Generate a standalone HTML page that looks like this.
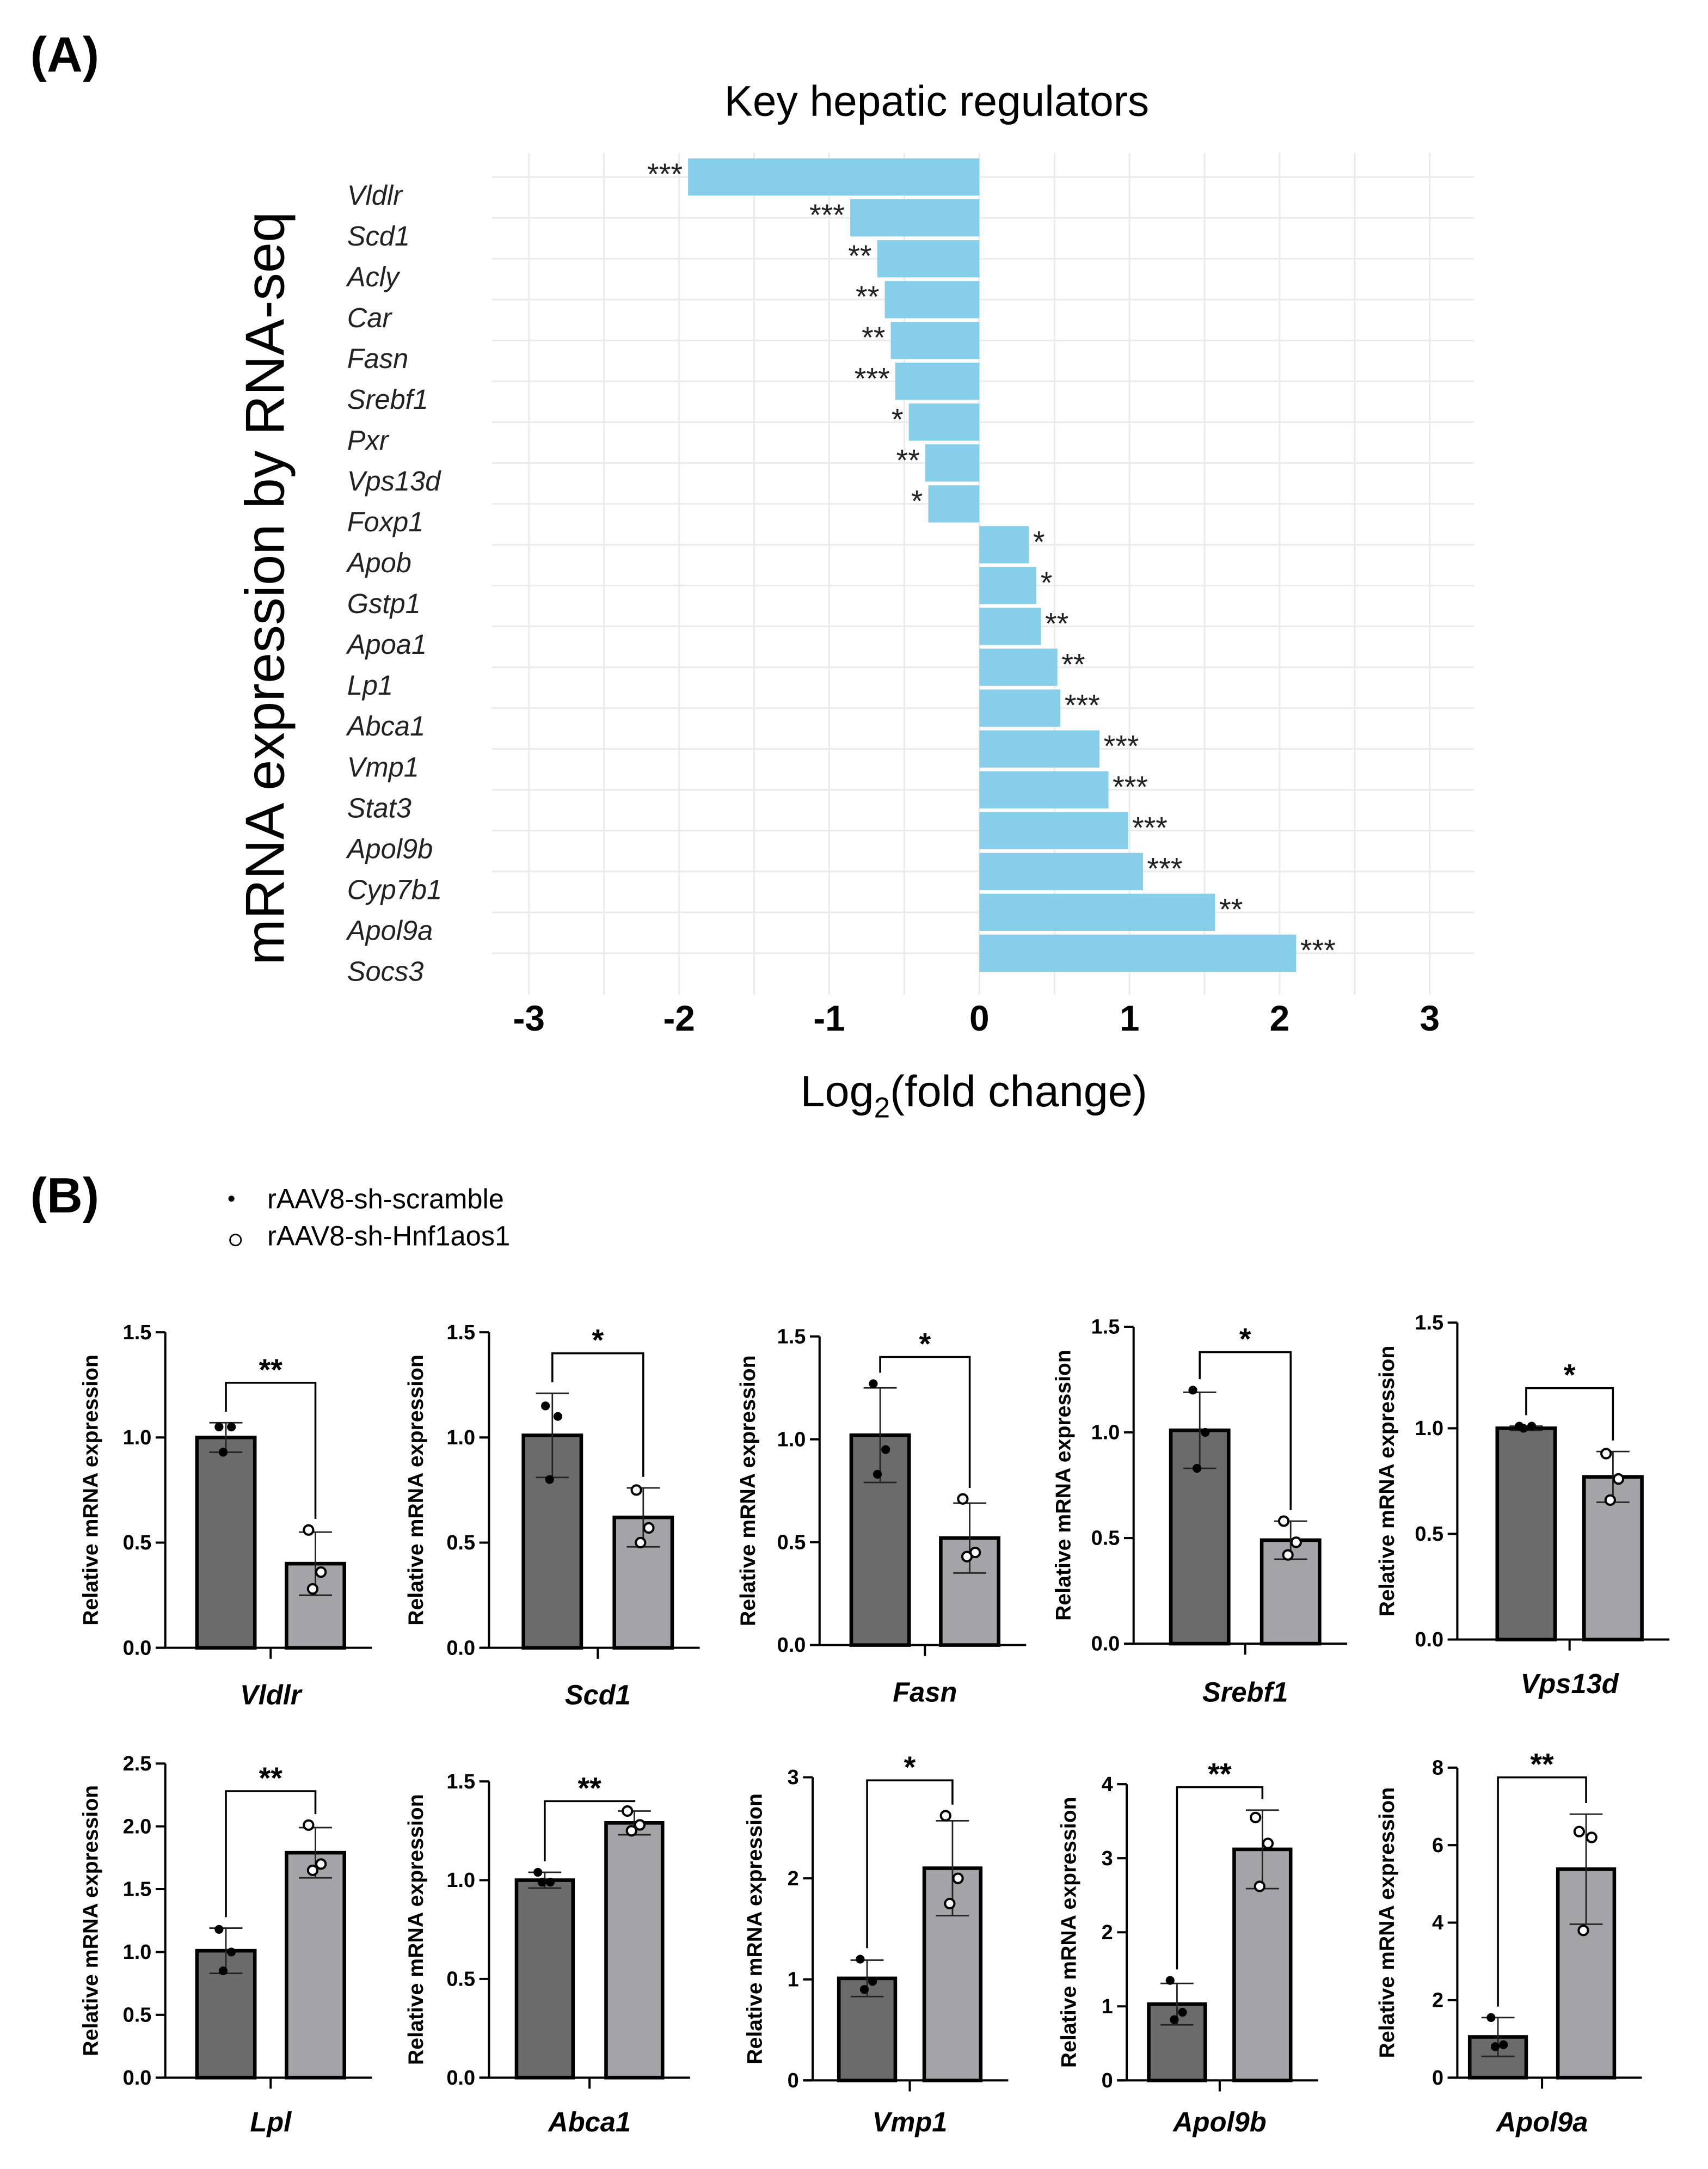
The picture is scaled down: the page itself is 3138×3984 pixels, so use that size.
<!DOCTYPE html>
<html><head><meta charset="utf-8"><style>
html,body{margin:0;padding:0;background:#fff}
svg{display:block}
text{font-family:"Liberation Sans",Arial,sans-serif}
</style></head><body>
<svg id="fig" xmlns="http://www.w3.org/2000/svg" width="3138" height="3984" viewBox="0 0 1240 1574.3">
<g id="pa"></g>
<g id="pb"></g>
</svg>
<script>
// ---- Panel A data ----
const genesA = ["Vldlr","Scd1","Acly","Car","Fasn","Srebf1","Pxr","Vps13d","Foxp1","Apob","Gstp1","Apoa1","Lp1","Abca1","Vmp1","Stat3","Apol9b","Cyp7b1","Apol9a","Socs3"];
const log2fc = [-1.94,-0.86,-0.68,-0.63,-0.59,-0.56,-0.47,-0.36,-0.34,0.33,0.38,0.41,0.52,0.54,0.80,0.86,0.99,1.09,1.57,2.11];
const sigA = ["***","***","**","**","**","***","*","**","*","*","*","**","**","***","***","***","***","***","**","***"];
const xTicksA = [-3,-2,-1,0,1,2,3];

// ---- Panel B data ----
const panelGenes = ["Vldlr","Scd1","Fasn","Srebf1","Vps13d","Lpl","Abca1","Vmp1","Apol9b","Apol9a"];
const meanCtrl = [1.00,1.01,1.02,1.01,1.00,1.01,1.00,1.01,1.03,1.05];
const sdCtrl = [0.07,0.20,0.23,0.18,0.01,0.18,0.04,0.18,0.28,0.50];
const ptsCtrl = [[1.05,1.05,0.93],[1.15,1.10,0.80],[1.27,0.95,0.83],[1.20,1.00,0.83],[1.01,1.01,1.00],[1.18,1.00,0.85],[1.04,0.99,0.99],[1.20,0.98,0.90],[1.35,0.92,0.82],[1.55,0.85,0.80]];
const meanKD = [0.40,0.62,0.52,0.49,0.77,1.79,1.29,2.10,3.12,5.38];
const sdKD = [0.15,0.14,0.17,0.09,0.12,0.20,0.06,0.47,0.53,1.42];
const ptsKD = [[0.56,0.36,0.28],[0.75,0.57,0.50],[0.71,0.45,0.43],[0.58,0.48,0.42],[0.88,0.76,0.66],[2.01,1.70,1.65],[1.35,1.28,1.25],[2.62,2.00,1.75],[3.55,3.20,2.62],[6.35,6.20,3.80]];
const sigB = ["**","*","*","*","*","**","**","*","**","**"];
const bracketVal = [1.26,1.40,1.40,1.38,1.19,2.28,1.40,2.97,3.96,7.75];
const yMaxB = [1.5,1.5,1.5,1.5,1.5,2.5,1.5,3,4,8];
const yTickLabelsB = [["0.0","0.5","1.0","1.5"],["0.0","0.5","1.0","1.5"],["0.0","0.5","1.0","1.5"],["0.0","0.5","1.0","1.5"],["0.0","0.5","1.0","1.5"],["0.0","0.5","1.0","1.5","2.0","2.5"],["0.0","0.5","1.0","1.5"],["0","1","2","3"],["0","1","2","3","4"],["0","2","4","6","8"]];

const NS="http://www.w3.org/2000/svg";
function mk(parent,tag,attrs,txt){const e=document.createElementNS(NS,tag);for(const k in attrs)e.setAttribute(k,attrs[k]);if(txt!==undefined)e.textContent=txt;parent.appendChild(e);return e;}

// ===== Panel A =====
const pa=document.getElementById('pa');
const unitA=109;
const zeroX=711;
const xA=v=>zeroX+v*unitA;
const topA=115, pitchA=29.65, barHA=27;
let t;
t=mk(pa,'text',{x:22,y:52,'font-size':36,'font-weight':'bold'},'(A)');

t=mk(pa,'text',{x:680,y:84,'font-size':31,'text-anchor':'middle'},'Key hepatic regulators');

const grid=mk(pa,'g',{stroke:'#ebebeb','stroke-width':1.2});

for(let v=-3;v<=3.01;v+=0.5){mk(grid,'line',{x1:xA(v),x2:xA(v),y1:111,y2:722});}
genesA.forEach((g,i)=>{const cy=topA+i*pitchA+barHA/2;mk(grid,'line',{x1:357,x2:1070,y1:cy,y2:cy});});
genesA.forEach((g,i)=>{
  const v=log2fc[i], y=topA+i*pitchA;
  const r=mk(pa,'rect',{x:Math.min(xA(0),xA(v)),y:y,width:Math.abs(xA(v)-xA(0)),height:barHA,fill:'#87ceeb'});
  
  const s=mk(pa,'text',{x:v<0?xA(v)-4:xA(v)+3,y:y+19,'font-size':22,'text-anchor':v<0?'end':'start',fill:'#222'},sigA[i]);
  
  const l=mk(pa,'text',{x:252,y:y+barHA/2+20,'font-size':20,'font-style':'italic',fill:'#222'},g);
  
});
xTicksA.forEach(v=>{const e=mk(pa,'text',{x:xA(v),y:748,'font-size':26,'font-weight':'bold','text-anchor':'middle'},String(v));
  });
t=mk(pa,'text',{x:707,y:803,'font-size':32,'text-anchor':'middle'});

t.innerHTML='Log<tspan font-size="21" dy="8">2</tspan><tspan dy="-8">(fold  change)</tspan>';
t=mk(pa,'text',{x:0,y:0,'font-size':40,'text-anchor':'middle',transform:'translate(206,427) rotate(-90)'},'mRNA expression by RNA-seq');


// ===== Panel B =====
const pb=document.getElementById('pb');
t=mk(pb,'text',{x:22,y:880,'font-size':36,'font-weight':'bold'},'(B)');

const lg=mk(pb,'g',{});
let e=mk(lg,'circle',{cx:168,cy:870,r:2.2,fill:'#000'});
e=mk(lg,'text',{x:194,y:877,'font-size':20},'rAAV8-sh-scramble');
e=mk(lg,'circle',{cx:171,cy:900,r:4,fill:'none',stroke:'#000','stroke-width':1.1});
e=mk(lg,'text',{x:194,y:904,'font-size':20},'rAAV8-sh-Hnf1aos1');

const layout=[
 {ax:120,top:967,bot:1196,b1:143,b2:208,bw:42,gy:1237,ty:66},
 {ax:355,top:967,bot:1196,b1:380,b2:446,bw:42,gy:1237,ty:302},
 {ax:595,top:970,bot:1194,b1:618,b2:683,bw:42,gy:1235,ty:543},
 {ax:823,top:963,bot:1193,b1:850,b2:916,bw:42,gy:1235,ty:772},
 {ax:1058,top:960,bot:1190,b1:1087,b2:1150,bw:42,gy:1229,ty:1007},
 {ax:120,top:1280,bot:1508,b1:143,b2:208,bw:42,gy:1547,ty:66},
 {ax:355,top:1293,bot:1508,b1:375,b2:440,bw:41,gy:1547,ty:302},
 {ax:590,top:1290,bot:1510,b1:609,b2:671,bw:41,gy:1547,ty:548},
 {ax:818,top:1295,bot:1510,b1:834,b2:896,bw:41,gy:1547,ty:776},
 {ax:1058,top:1283,bot:1508,b1:1067,b2:1131,bw:41,gy:1547,ty:1007}
];
panelGenes.forEach((g,i)=>{
  const L=layout[i];
  const G=mk(pb,'g',{});
  const y=v=>L.bot-(v/yMaxB[i])*(L.bot-L.top);
  const axEnd=L.b2+L.bw+20;
  e=mk(G,'line',{x1:L.ax,x2:L.ax,y1:L.top,y2:L.bot,stroke:'#000','stroke-width':1.6});
  e=mk(G,'line',{x1:L.ax-7,x2:axEnd,y1:L.bot,y2:L.bot,stroke:'#000','stroke-width':1.6});
  const cx=(L.b1+L.b2+L.bw)/2;
  mk(G,'line',{x1:cx,x2:cx,y1:L.bot,y2:L.bot+8,stroke:'#000','stroke-width':1.6});
  const labs=yTickLabelsB[i];
  labs.forEach((lb,k)=>{const v=yMaxB[i]*k/(labs.length-1);const yy=y(v);
    mk(G,'line',{x1:L.ax-7,x2:L.ax,y1:yy,y2:yy,stroke:'#000','stroke-width':1.6});
    const tt=mk(G,'text',{x:L.ax-10,y:yy+5,'font-size':15,'font-weight':'bold','text-anchor':'end'},lb);
    });
  e=mk(G,'text',{x:0,y:0,'font-size':15.5,'font-weight':'bold','text-anchor':'middle',transform:`translate(${L.ty+5},${(L.top+L.bot)/2}) rotate(-90)`},'Relative mRNA expression');
  
  e=mk(G,'text',{x:cx,y:L.gy,'font-size':20,'font-weight':'bold','font-style':'italic','text-anchor':'middle'},g);
  
  const groups=[[L.b1,meanCtrl[i],sdCtrl[i],ptsCtrl[i],'#6b6b6b',true,'ctrl'],[L.b2,meanKD[i],sdKD[i],ptsKD[i],'#a4a4a8',false,'kd']];
  const tops=[];
  groups.forEach(([bx,m,sd,pts,col,filled,nm])=>{
    const r=mk(G,'rect',{x:bx,y:y(m),width:L.bw,height:L.bot-y(m),fill:col,stroke:'#000','stroke-width':2.6});
    
    const c=bx+L.bw/2;
    mk(G,'line',{x1:c,x2:c,y1:y(m+sd),y2:y(m-sd),stroke:'#222','stroke-width':1.1});
    mk(G,'line',{x1:c-12,x2:c+12,y1:y(m+sd),y2:y(m+sd),stroke:'#222','stroke-width':1.1});
    mk(G,'line',{x1:c-12,x2:c+12,y1:y(m-sd),y2:y(m-sd),stroke:'#222','stroke-width':1.1});
    const offs=[-5,4,-2];
    pts.forEach((p,k)=>{const d=mk(G,'circle',{cx:c+offs[k],cy:y(p),r:filled?3.2:3.4,fill:filled?'#000':'#fff',stroke:'#000','stroke-width':filled?0:1.6});
      });
    tops.push(Math.min(y(m+sd),y(Math.max(...pts)))-8);
  });
  const by=y(bracketVal[i]);
  const c1=L.b1+L.bw/2,c2=L.b2+L.bw/2;
  e=mk(G,'path',{d:`M${c1},${tops[0]} L${c1},${by} L${c2},${by} L${c2},${tops[1]}`,fill:'none',stroke:'#000','stroke-width':1.4});
  
  e=mk(G,'text',{x:(c1+c2)/2,y:by-2,'font-size':22,'font-weight':'bold','text-anchor':'middle'},sigB[i]);
  
});
</script>
</body></html>
